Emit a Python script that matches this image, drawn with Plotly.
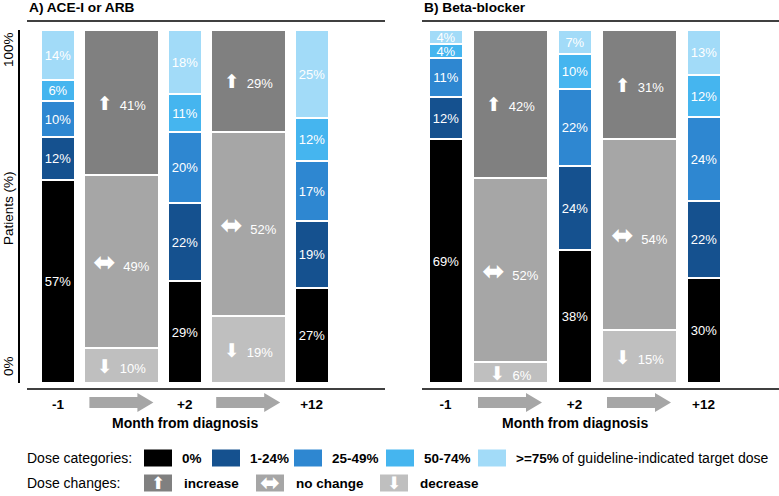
import plotly.graph_objects as go

W, H = 779, 496

# ---------------- data ----------------
timepoints = ["-1", "+2", "+12"]
panel_titles = ["A) ACE-I or ARB", "B) Beta-blocker"]
dose_categories = ["0%", "1-24%", "25-49%", "50-74%", ">=75%"]
dose_colors = ["#000000", "#15518f", "#2e87d1", "#45b5ef", "#a2dbf8"]
change_categories = ["decrease", "no change", "increase"]
change_colors = ["#bfbfbf", "#a6a6a6", "#808080"]
change_icons = ["\u2b07", "\u2b0c", "\u2b06"]

# A) ACE-I or ARB : dose distribution at month -1, +2, +12
ace_0 = [57, 29, 27]
ace_1_24 = [12, 22, 19]
ace_25_49 = [10, 20, 17]
ace_50_74 = [6, 11, 12]
ace_75 = [14, 18, 25]
# dose changes between -1 -> +2 and +2 -> +12
ace_decrease = [10, 19]
ace_nochange = [49, 52]
ace_increase = [41, 29]

# B) Beta-blocker
bb_0 = [69, 38, 30]
bb_1_24 = [12, 24, 22]
bb_25_49 = [11, 22, 24]
bb_50_74 = [4, 10, 12]
bb_75 = [4, 7, 13]
bb_decrease = [6, 15]
bb_nochange = [52, 54]
bb_increase = [42, 31]

panels = [
    dict(dose=[ace_0, ace_1_24, ace_25_49, ace_50_74, ace_75],
         change=[ace_decrease, ace_nochange, ace_increase]),
    dict(dose=[bb_0, bb_1_24, bb_25_49, bb_50_74, bb_75],
         change=[bb_decrease, bb_nochange, bb_increase]),
]

# ---------------- layout helpers ----------------
def px(x):
    return x / W


def py(y):
    return 1 - y / H


FONT = "Liberation Sans, Arial, DejaVu Sans, sans-serif"
ICON_SIZES = [19, 27, 19]
ICON = "<span style='font-size:{}px;font-family:DejaVu Sans'>{}</span>"
dose_x = [0, 2, 4]
change_x = [1, 3]

# per-panel geometry (pixels)
geo = [
    dict(dom=(20, 385), x0=58.0, unit=63.4, line=(27, 385), xa="x", ya="y"),
    dict(dom=(422, 779), x0=445.5, unit=64.5, line=(422, 779), xa="x2", ya="y2"),
]

fig = go.Figure()

for p, g in zip(panels, geo):
    dw = 34 / g["unit"]
    cw = 75 / g["unit"]
    for vals, name, col in zip(p["dose"], dose_categories, dose_colors):
        fig.add_trace(go.Bar(
            x=dose_x, y=vals, width=dw, name=name, showlegend=False,
            marker=dict(color=col, line=dict(color="white", width=2)),
            text=[f"{v}%" for v in vals], textposition="inside",
            insidetextanchor="middle", textangle=0,
            textfont=dict(color="white", size=13, family=FONT),
            xaxis=g["xa"], yaxis=g["ya"], hoverinfo="skip"))
    for vals, name, col, ic, isz in zip(p["change"], change_categories, change_colors,
                                        change_icons, ICON_SIZES):
        fig.add_trace(go.Bar(
            x=change_x, y=vals, width=cw, name=name, showlegend=False,
            marker=dict(color=col, line=dict(color="white", width=2)),
            text=[ICON.format(isz, ic) + f"  {v}%" for v in vals], textposition="inside",
            insidetextanchor="middle", textangle=0,
            textfont=dict(color="white", size=13, family=FONT),
            xaxis=g["xa"], yaxis=g["ya"], hoverinfo="skip"))

ydom = [py(383), py(30)]
layout_axes = {}
for i, g in enumerate(geo):
    lo = -(g["x0"] - g["dom"][0]) / g["unit"]
    hi = (g["dom"][1] - g["x0"]) / g["unit"]
    xa = "xaxis" if i == 0 else "xaxis2"
    yax = "yaxis" if i == 0 else "yaxis2"
    layout_axes[xa] = dict(
        domain=[px(g["dom"][0]), px(g["dom"][1])], range=[lo, hi],
        anchor="y" if i == 0 else "y2",
        tickvals=dose_x, ticktext=timepoints, ticks="outside", ticklen=9,
        tickcolor="rgba(0,0,0,0)", showline=False, showgrid=False, zeroline=False,
        tickfont=dict(family=FONT, size=13.5, color="black", weight="bold"),
        fixedrange=True)
    layout_axes[yax] = dict(
        domain=ydom, range=[0, 100], anchor="x" if i == 0 else "x2",
        showline=(i == 0), linecolor="black", linewidth=1.5,
        showticklabels=False, ticks="", showgrid=False, zeroline=False,
        fixedrange=True)

shapes = []
annotations = []

for i, g in enumerate(geo):
    l0, l1 = g["line"]
    for yline in (21, 389):
        shapes.append(dict(type="line", xref="paper", yref="paper",
                           x0=px(l0), x1=px(l1), y0=py(yline), y1=py(yline),
                           line=dict(color="black", width=1.5)))
    # gray block arrows between time points
    for cx in change_x:
        c = g["x0"] + cx * g["unit"]
        xa0, xa1, xh = c - 32, c + 32, c + 16
        pts = [(xa0, 397), (xh, 397), (xh, 393), (xa1, 402.5), (xh, 412),
               (xh, 408), (xa0, 408)]
        path = "M " + " L ".join(f"{px(a):.5f},{py(b):.5f}" for a, b in pts) + " Z"
        shapes.append(dict(type="path", xref="paper", yref="paper", path=path,
                           fillcolor="#a6a6a6", line=dict(width=0)))
    annotations.append(dict(
        text="Month from diagnosis", xref="paper", yref="paper",
        x=px(g["x0"] + 2 * g["unit"]), y=py(423), xanchor="center", yanchor="middle",
        showarrow=False, font=dict(family=FONT, size=14, color="black", weight="bold")))
    annotations.append(dict(
        text=panel_titles[i], xref="paper", yref="paper",
        x=px(l0), y=py(8), xanchor="left", yanchor="middle",
        showarrow=False, font=dict(family=FONT, size=13.7, color="black", weight="bold")))

# y-axis texts (left panel)
for txt, yc in (("100%", 50), ("Patients (%)", 208), ("0%", 366)):
    annotations.append(dict(text=txt, xref="paper", yref="paper", x=px(8), y=py(yc),
                            xanchor="center", yanchor="middle", textangle=-90,
                            showarrow=False, font=dict(family=FONT, size=13.5, color="black")))

# ---------------- legend ----------------
def legend_text(txt, x, y, bold):
    annotations.append(dict(text=txt, xref="paper", yref="paper", x=px(x), y=py(y),
                            xanchor="left", yanchor="middle", showarrow=False,
                            font=dict(family=FONT, size=14 if not bold else 13.5,
                                      color="black",
                                      weight="bold" if bold else "normal")))


row1, row2 = 458, 483
legend_text("Dose categories:", 25, row1, False)
dose_rect_x = [144, 212, 294, 386, 478]
for name, col, rx in zip(dose_categories, dose_colors, dose_rect_x):
    shapes.append(dict(type="rect", xref="paper", yref="paper",
                       x0=px(rx), x1=px(rx + 28), y0=py(row1 + 8.5), y1=py(row1 - 8.5),
                       fillcolor=col, line=dict(width=0)))
    legend_text(name, rx + 36, row1, True)
legend_text("of guideline-indicated target dose", 560, row1, False)

legend_text("Dose changes:", 25, row2, False)
change_rect_x = [144, 256, 380]
legend_icon_sizes = [17, 24, 17]
for name, col, ic, isz, rx in zip(change_categories[::-1], change_colors[::-1],
                                  change_icons[::-1], legend_icon_sizes[::-1], change_rect_x):
    shapes.append(dict(type="rect", xref="paper", yref="paper",
                       x0=px(rx), x1=px(rx + 28), y0=py(row2 + 8.5), y1=py(row2 - 8.5),
                       fillcolor=col, line=dict(width=0)))
    annotations.append(dict(text=ic, xref="paper", yref="paper", x=px(rx + 14), y=py(row2),
                            xanchor="center", yanchor="middle", showarrow=False,
                            font=dict(family="DejaVu Sans", size=isz, color="white")))
    legend_text(name, rx + 38, row2, True)

fig.update_layout(
    width=W, height=H, margin=dict(l=0, r=0, t=0, b=0),
    paper_bgcolor="white", plot_bgcolor="white",
    barmode="stack", barnorm="percent", bargap=0,
    uniformtext=dict(minsize=13, mode="show"),
    showlegend=False, shapes=shapes, annotations=annotations,
    font=dict(family=FONT, size=13, color="black"),
    **layout_axes)

fig.write_html("out.html", config={"displayModeBar": False},
               post_script="document.body.style.margin='0';document.body.style.overflow='hidden';")
